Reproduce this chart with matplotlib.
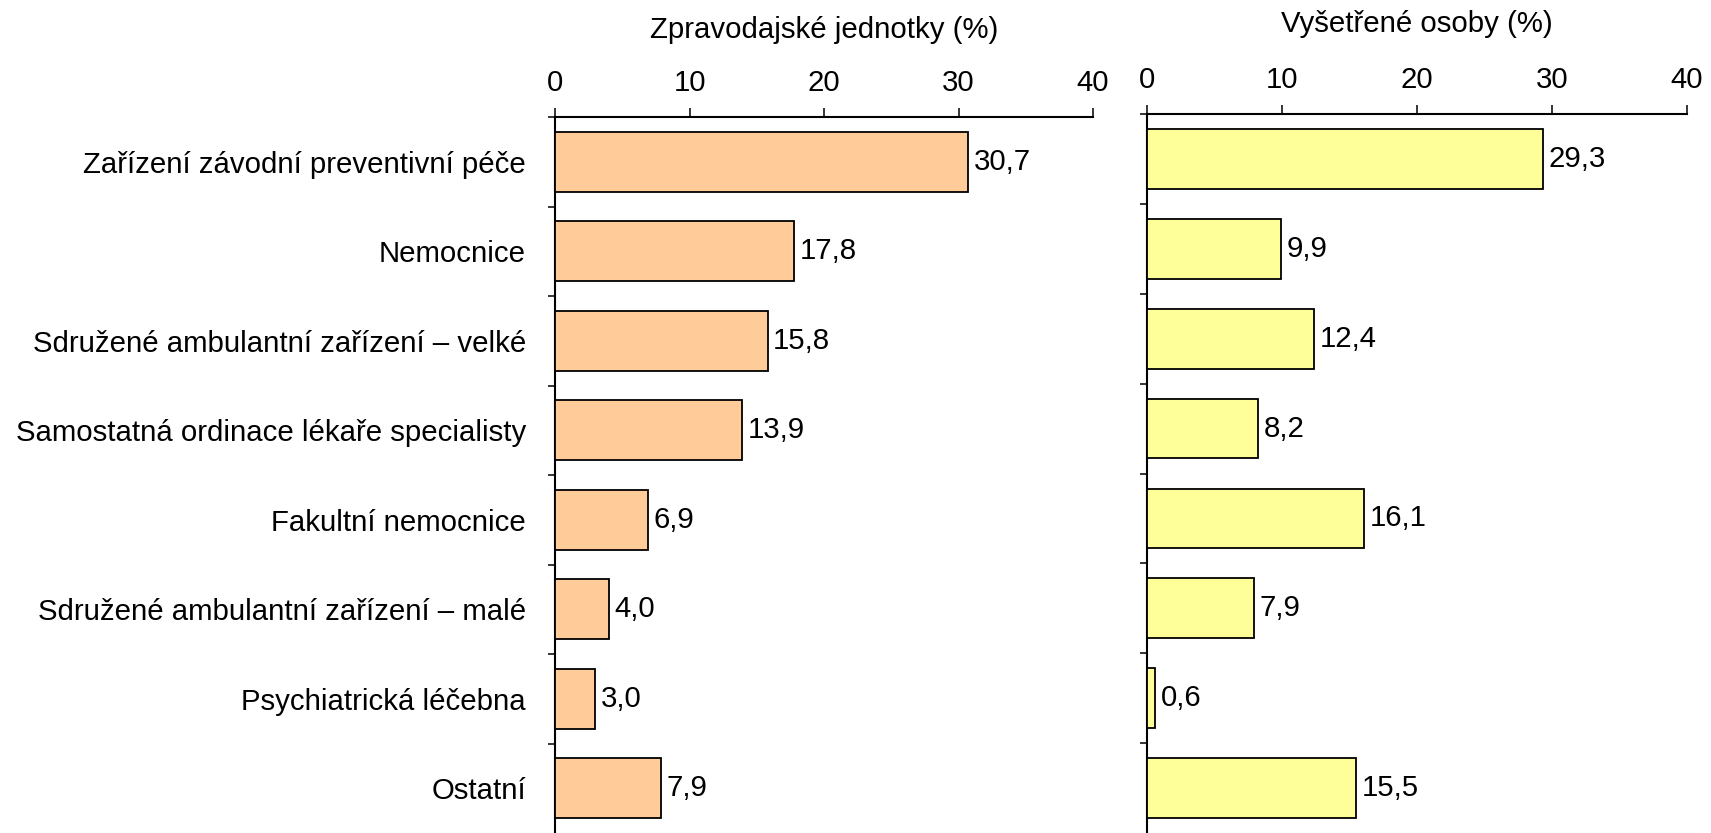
#!/usr/bin/env python3
"""
Two-panel horizontal bar chart: reporting units vs. examined persons by facility type.
"""

import numpy as np
import matplotlib
matplotlib.use("Agg")
import matplotlib.pyplot as plt

plt.rcParams['font.family'] = ['Liberation Sans', 'DejaVu Sans']

# Data
categories = [
    "Zařízení závodní preventivní péče",
    "Nemocnice",
    "Sdružené ambulantní zařízení – velké",
    "Samostatná ordinace lékaře specialisty",
    "Fakultní nemocnice",
    "Sdružené ambulantní zařízení – malé",
    "Psychiatrická léčebna",
    "Ostatní",
]
units_pct = [30.7, 17.8, 15.8, 13.9, 6.9, 4.0, 3.0, 7.9]
persons_pct = [29.3, 9.9, 12.4, 8.2, 16.1, 7.9, 0.6, 15.5]
x_ticks = [0, 10, 20, 30, 40]
title_units = "Zpravodajské jednotky (%)"
title_persons = "Vyšetřené osoby (%)"

FONT_SIZE = 21.2
W, H = 1711, 833


def fmt(v):
    return f"{v:.1f}".replace('.', ',')


def style_axis(ax, values, color, show_labels):
    """Draw one bar panel with axis on top and ticks at category boundaries."""
    n = len(values)
    pos = np.arange(n)
    bars = ax.barh(pos, values, height=0.665, color=color,
                   edgecolor='black', linewidth=1.3, zorder=3)
    ax.bar_label(bars, labels=[fmt(v) for v in values], padding=4,
                 fontsize=FONT_SIZE)

    ax.set_xlim(0, 40)
    ax.set_ylim(n - 0.5, -0.5)

    for side in ('right', 'bottom'):
        ax.spines[side].set_visible(False)
    for side in ('left', 'top'):
        ax.spines[side].set_linewidth(1.5)

    ax.xaxis.tick_top()
    ax.set_xticks(x_ticks)
    ax.tick_params(axis='x', direction='out', length=6.5, width=1.1,
                   pad=8, labelsize=FONT_SIZE)

    ax.set_yticks(np.arange(n) - 0.5)
    ax.set_yticklabels([])
    ax.tick_params(axis='y', which='major', direction='out', length=5,
                   width=1.1)
    ax.set_yticks(pos, minor=True)
    if show_labels:
        ax.set_yticklabels(categories, minor=True)
    ax.tick_params(axis='y', which='minor', length=0, pad=21,
                   labelsize=FONT_SIZE)


fig = plt.figure(figsize=(W / 100, H / 100), dpi=100)

ax1 = fig.add_axes([555 / W, 0, (1093 - 555) / W, (H - 117) / H])
ax2 = fig.add_axes([1147 / W, 0, (1687 - 1147) / W, (H - 114) / H])

style_axis(ax1, units_pct, '#FFCC99', True)
style_axis(ax2, persons_pct, '#FFFF99', False)

fig.text((555 + 1093) / 2 / W, 1 - 38 / H, title_units, ha='center',
         va='baseline', fontsize=FONT_SIZE)
fig.text((1147 + 1687) / 2 / W, 1 - 32 / H, title_persons, ha='center',
         va='baseline', fontsize=FONT_SIZE)

fig.savefig('out.png', dpi=100)
